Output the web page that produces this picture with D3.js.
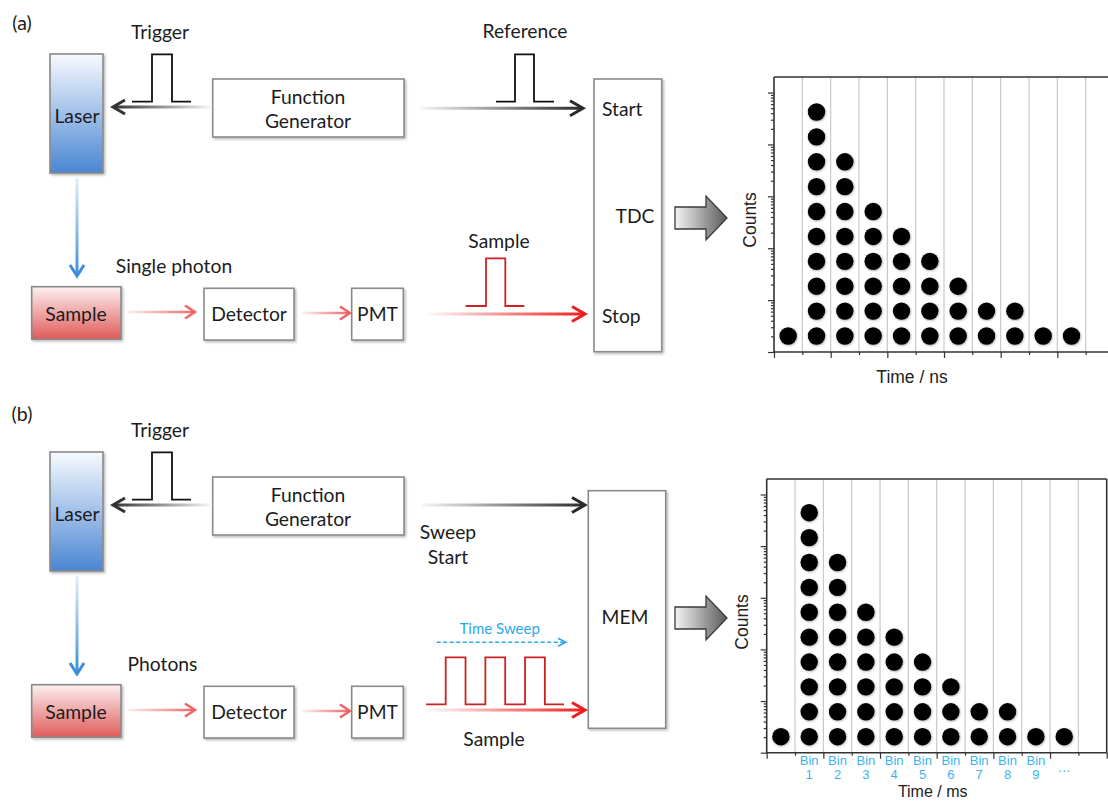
<!DOCTYPE html>
<html><head><meta charset="utf-8">
<script src="https://cdn.jsdelivr.net/npm/d3@7/dist/d3.min.js"></script>
<style>
html,body{margin:0;padding:0;background:#fff;}
svg{display:block;}
</style></head><body>
<svg id="c" width="1108" height="801"></svg>
<script>
// ---------------- data ----------------
const binIndex      = [0,1,2,3,4,5,6,7,8,9,10];
const countsTCSPC   = [1,10,8,6,5,4,3,2,2,1,1];   // dots per time channel (a)
const countsMCS     = [1,10,8,6,5,4,3,2,2,1,1];   // dots per time bin (b)
const binLabels     = ["1","2","3","4","5","6","7","8","9","…"]; // under bins 1..10
const logMajorTicks = [1,10,100,1000,10000,100000];
const panelLabels   = ["(a)","(b)"];
const photonLabels  = ["Single photon","Photons"];
const axisTitles    = {x:["Time / ns","Time / ms"], y:"Counts"};
const pulseTrainHigh = [[0,1],[2,3],[4,5]]; // sample pulses within the sweep (units of half-periods)

// ---------------- setup ----------------
const svg = d3.select("#c");
const defs = svg.append("defs");
const FONT = "Lato, 'Open Sans', sans-serif";
const CFONT = "'Liberation Sans', Arial, sans-serif";
const TXT = "#1c1c1c";

const sh = defs.append("filter").attr("id","shadow").attr("x","-20%").attr("y","-20%").attr("width","140%").attr("height","140%");
sh.append("feDropShadow").attr("dx",1.5).attr("dy",1.5).attr("stdDeviation",1.2).attr("flood-color","#000").attr("flood-opacity",0.28);
const dsh = defs.append("filter").attr("id","dotshadow").attr("x","-30%").attr("y","-30%").attr("width","160%").attr("height","160%");
dsh.append("feDropShadow").attr("dx",0.6).attr("dy",0.8).attr("stdDeviation",0.9).attr("flood-color","#000").attr("flood-opacity",0.35);

function vGrad(id, top, bottom){
  const g = defs.append("linearGradient").attr("id",id).attr("x1",0).attr("y1",0).attr("x2",0).attr("y2",1);
  g.append("stop").attr("offset","0%").attr("stop-color",top);
  g.append("stop").attr("offset","100%").attr("stop-color",bottom);
}
vGrad("laserG","#f7fafe","#4a86d3");
vGrad("sampleG","#fdf0f0","#e05a5a");
{
  const g = defs.append("linearGradient").attr("id","bigArrowG").attr("x1",0).attr("y1",0).attr("x2",1).attr("y2",0);
  g.append("stop").attr("offset","0%").attr("stop-color","#f4f4f4");
  g.append("stop").attr("offset","100%").attr("stop-color","#5a5a5a");
}
let gid = 0;
function lineGrad(x1,y1,x2,y2,c0,c1,mid){
  const id = "lg"+(gid++);
  const g = defs.append("linearGradient").attr("id",id).attr("gradientUnits","userSpaceOnUse")
    .attr("x1",x1).attr("y1",y1).attr("x2",x2).attr("y2",y2);
  g.append("stop").attr("offset","0%").attr("stop-color",c0);
  if(mid!==undefined) g.append("stop").attr("offset",mid).attr("stop-color",c1);
  g.append("stop").attr("offset","100%").attr("stop-color",c1);
  return "url(#"+id+")";
}

function text(g, str, x, y, opt={}){
  return g.append("text").attr("x",x).attr("y",y)
    .attr("text-anchor",opt.anchor||"middle").attr("dominant-baseline","central")
    .attr("font-family",opt.font||FONT).attr("font-size",opt.size||19.3)
    .attr("fill",opt.fill||TXT).text(str);
}
function box(g,x,y,w,h,fill){
  g.append("rect").attr("x",x).attr("y",y).attr("width",w).attr("height",h)
    .attr("fill",fill||"#fff").attr("stroke","#8a8a8a").attr("stroke-width",1.6).attr("filter","url(#shadow)");
}
// horizontal arrow from xs to xe (head at xe)
function hArrow(g, xs, xe, y, col, light, opt={}){
  const w = opt.w||3, L = opt.L||12, H = opt.H||7;
  const dir = xe>xs?1:-1;
  g.append("line").attr("x1",xs).attr("y1",y).attr("x2",xe-dir*2).attr("y2",y)
    .attr("stroke",lineGrad(xs,y,xe,y,light,col,opt.mid)).attr("stroke-width",w);
  g.append("path").attr("d",`M${xe-dir*L},${y-H}L${xe},${y}L${xe-dir*L},${y+H}`)
    .attr("fill","none").attr("stroke",col).attr("stroke-width",w).attr("stroke-linejoin","miter");
}
function pulse(g, pts, col){
  g.append("path").attr("d",d3.line()(pts)).attr("fill","none").attr("stroke",col).attr("stroke-width",1.8);
}
function bigArrow(g, x, yc){
  const p = [[x,yc-11],[x+31,yc-11],[x+31,yc-22],[x+52,yc],[x+31,yc+22],[x+31,yc+11],[x,yc+11]];
  g.append("path").attr("d",d3.line()(p)+"Z").attr("fill","url(#bigArrowG)").attr("stroke","#3a3a3a").attr("stroke-width",1.3);
}

// ---------------- schematic ----------------
function schematic(k, y0){
  const g = svg.append("g");
  text(g, panelLabels[k], 22, (k===0?22:413), {size:19.5});
  text(g, "Trigger", 160, y0+31);
  pulse(g, [[132,y0+101.7],[152,y0+101.7],[152,y0+54.3],[172,y0+54.3],[172,y0+101.7],[191,y0+101.7]], "#111");
  box(g, 50, y0+54, 53, 119, "url(#laserG)");
  text(g, "Laser", 77, y0+115);
  hArrow(g, 210, 113, y0+107, "#333", "#f4f4f4", {w:3, L:12, H:7});
  box(g, 212.7, y0+79, 191.3, 58);
  text(g, "Function", 308, y0+96.5);
  text(g, "Generator", 308, y0+120.5);
  // blue beam
  g.append("line").attr("x1",77).attr("y1",y0+178).attr("x2",77).attr("y2",y0+274)
    .attr("stroke",lineGrad(77,y0+178,77,y0+276,"#e3edf9","#3b8edb")).attr("stroke-width",3);
  g.append("path").attr("d",`M${70},${y0+265}L77,${y0+276}L84,${y0+265}`).attr("fill","none")
    .attr("stroke","#3b8edb").attr("stroke-width",3);
  text(g, photonLabels[k], k===0?174:162.5, y0+265);
  box(g, 31.7, y0+286.7, 89.3, 52.6, "url(#sampleG)");
  text(g, "Sample", 76, y0+313);
  hArrow(g, 127, 195, y0+312, "#f06464", "#fdf0f0", {w:2.5, L:10, H:6.5});
  box(g, 204, y0+288.3, 90, 51.7);
  text(g, "Detector", 249, y0+313.5);
  hArrow(g, 302, 350, y0+313, "#f06464", "#fdf0f0", {w:2.5, L:10, H:6.5});
  box(g, 351.7, y0+288.3, 51.6, 51.7);
  text(g, "PMT", 377.5, y0+313.5);
  return g;
}

const ga = schematic(0, 0);
hArrow(ga, 420, 583, 108.3, "#2a2a2a", "#f6f6f6", {w:3, L:13, H:7.5});
pulse(ga, [[496,101.7],[515,101.7],[515,54.3],[534,54.3],[534,101.7],[554,101.7]], "#111");
text(ga, "Reference", 525, 30);
box(ga, 594, 79, 67.7, 272.7);
text(ga, "Start", 602, 108, {anchor:"start"});
text(ga, "TDC", 635, 215);
text(ga, "Stop", 602, 315, {anchor:"start"});
hArrow(ga, 423, 585, 314, "#ee1c1c", "#ffffff", {w:3, L:13, H:7.5});
pulse(ga, [[465.7,306],[486,306],[486,258.3],[505.3,258.3],[505.3,306],[524.3,306]], "#cc2222");
text(ga, "Sample", 499, 240);
bigArrow(ga, 675, 218);

const gb = schematic(1, 398);
hArrow(gb, 421.7, 585, 505, "#2a2a2a", "#f6f6f6", {w:3, L:13, H:7.5});
text(gb, "Sweep", 448, 531.7);
text(gb, "Start", 448, 556);
box(gb, 588.3, 490.7, 77.4, 237.6);
text(gb, "MEM", 625, 616.7);
text(gb, "Time Sweep", 499.7, 628.3, {size:15, fill:"#2aa8ec"});
gb.append("line").attr("x1",436.7).attr("y1",642.3).attr("x2",564).attr("y2",642.3)
  .attr("stroke","#2aa8ec").attr("stroke-width",1.6).attr("stroke-dasharray","4,2.5");
gb.append("path").attr("d","M558,638.3L565.7,642.3L558,646.3").attr("fill","none").attr("stroke","#2aa8ec").attr("stroke-width",1.6);
{
  const px = d3.scaleLinear().domain([0,6]).range([445.7,564.7]); // half-period scale of the sweep
  const yH = 657.3, yL = 704.3;
  const pts = [[426,yL]];
  pulseTrainHigh.forEach(([a,b])=>{ pts.push([px(a),yL],[px(a),yH],[px(b),yH],[px(b),yL]); });
  pts.push([564,yL]);
  pulse(gb, pts, "#cc2222");
}
hArrow(gb, 425, 585, 710, "#ee1c1c", "#ffffff", {w:3, L:13, H:7.5});
text(gb, "Sample", 494, 738.3);
bigArrow(gb, 675, 618);

// ---------------- histograms ----------------
function histogram(x0, y0, h, counts, xTitle, titlePos, withBins, rightBorder){
  const w = 340;
  const g = svg.append("g").attr("transform",`translate(${x0},${y0})`);
  const x = d3.scaleLinear().domain([0,12]).range([0,w]);
  const yLog = d3.scaleLog().domain([1, Math.pow(10,5.3)]).range([h,0]);
  const yLevel = d3.scaleLinear().domain([0,9]).range([h-16, h-16-224]);
  // grid
  g.selectAll("line.grid").data(d3.range(1,12)).join("line").attr("class","grid")
    .attr("x1",d=>x(d)).attr("x2",d=>x(d)).attr("y1",0).attr("y2",h)
    .attr("stroke","#c9c9c9").attr("stroke-width",1.2);
  // y ticks (log)
  const minor = [];
  logMajorTicks.slice(0,-1).forEach(m=>{ for(let i=2;i<=9;i++) minor.push(m*i); });
  const ay1 = g.append("g").call(d3.axisLeft(yLog).tickValues(minor).tickSize(3).tickFormat(""));
  const ay2 = g.append("g").call(d3.axisLeft(yLog).tickValues(logMajorTicks).tickSize(6).tickFormat(""));
  // x ticks
  const ax1 = g.append("g").attr("transform",`translate(0,${h})`)
    .call(d3.axisBottom(x).tickValues(d3.range(1,12,2)).tickSize(3).tickFormat(""));
  const ax2 = g.append("g").attr("transform",`translate(0,${h})`)
    .call(d3.axisBottom(x).tickValues(d3.range(0,13,2)).tickSize(6).tickFormat(""));
  [ay1,ay2,ax1,ax2].forEach(a=>{ a.select(".domain").remove(); a.selectAll("line").attr("stroke","#333").attr("stroke-width",1.2); });
  // frame
  g.append("path").attr("d",`M0,0V${h}H${w}`+(rightBorder?`V0`:`M${w},0`)).attr("fill","none").attr("stroke","#333").attr("stroke-width",1.6);
  g.append("line").attr("x1",0).attr("x2",w).attr("y1",0).attr("y2",0).attr("stroke","#333").attr("stroke-width",1.6);
  // dots
  const dots = [];
  binIndex.forEach((b,i)=>{ for(let k=0;k<counts[i];k++) dots.push({b,k}); });
  g.selectAll("circle").data(dots).join("circle")
    .attr("cx",d=>x(d.b+0.5)).attr("cy",d=>yLevel(d.k)).attr("r",8.7)
    .attr("fill","#000").attr("filter","url(#dotshadow)");
  // titles
  g.append("text").attr("transform",`translate(${titlePos.cx},${titlePos.cy}) rotate(-90)`)
    .attr("text-anchor","middle").attr("dominant-baseline","central")
    .attr("font-family",CFONT).attr("font-size",17.5).attr("fill","#222").text(axisTitles.y);
  g.append("text").attr("x",titlePos.tx).attr("y",titlePos.ty).attr("text-anchor","middle").attr("dominant-baseline","central")
    .attr("font-family",CFONT).attr("font-size",titlePos.ts).attr("fill","#222").text(xTitle);
  if(withBins){
    binLabels.forEach((lab,j)=>{
      const cx = x(j+1+0.5);
      if(lab==="…"){
        g.append("text").attr("x",cx).attr("y",h+15).attr("text-anchor","middle").attr("dominant-baseline","central")
          .attr("font-family",CFONT).attr("font-size",13).attr("fill","#3cb4ef").text(lab);
      } else {
        g.append("text").attr("x",cx).attr("y",h+8).attr("text-anchor","middle").attr("dominant-baseline","central")
          .attr("font-family",CFONT).attr("font-size",13).attr("fill","#3cb4ef").text("Bin");
        g.append("text").attr("x",cx).attr("y",h+22).attr("text-anchor","middle").attr("dominant-baseline","central")
          .attr("font-family",CFONT).attr("font-size",13).attr("fill","#3cb4ef").text(lab);
      }
    });
  }
}
histogram(774, 77, 275, countsTCSPC, axisTitles.x[0], {cx:-24, cy:143, tx:138, ty:300, ts:17.5}, false, false);
histogram(766.7, 479, 273.7, countsMCS, axisTitles.x[1], {cx:-25, cy:143, tx:166, ty:312, ts:16}, true, true);
</script>
</body></html>
